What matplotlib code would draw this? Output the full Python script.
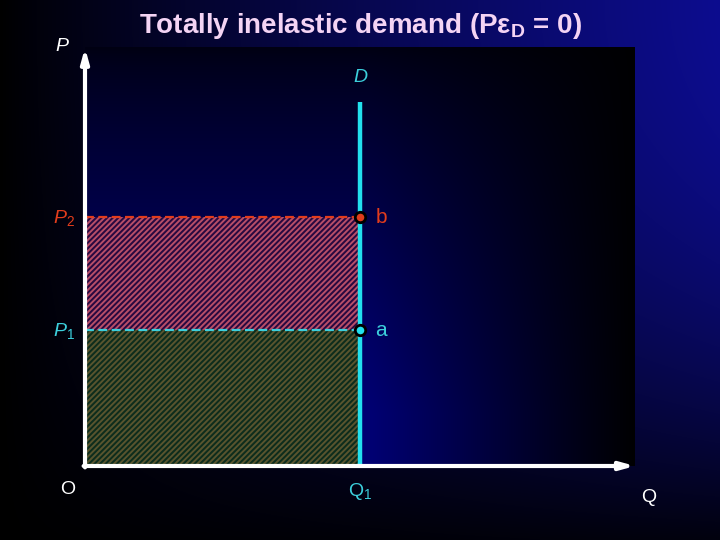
import matplotlib
matplotlib.use('Agg')
import matplotlib.pyplot as plt
import numpy as np

# ── Data (model units) ────────────────────────────────────────────────
q1 = 4.0                 # fixed quantity demanded
p1, p2 = 2.0, 3.66       # old and new price
d_top = 5.35             # top of the demand line
q_max, p_max = 8.0, 6.15 # axis extents
point_labels = ['a', 'b']
price_labels = [r'$\mathit{P}_{\mathrm{1}}$', r'$\mathit{P}_{\mathrm{2}}$']

# ── Style ─────────────────────────────────────────────────────────────
plt.rcParams['font.family'] = ['Liberation Sans', 'DejaVu Sans']
plt.rcParams['mathtext.fontset'] = 'custom'
plt.rcParams['mathtext.rm'] = 'Liberation Sans'
plt.rcParams['mathtext.it'] = 'Liberation Sans:italic'
plt.rcParams['mathtext.bf'] = 'Liberation Sans:bold'
plt.rcParams['hatch.linewidth'] = 1.4

RED = '#e23c1c'
CYAN = '#3ccfdc'
LINE_CYAN = '#22e0ee'

W, H = 720, 540
ux, uy = 68.75, 68.0      # pixels per unit
x0, y0 = 85, 466          # origin in pixels
xlim = (-x0 / ux, (W - x0) / ux)
ylim = (-(H - y0) / uy, y0 / uy)

fig = plt.figure(figsize=(7.2, 5.4), dpi=100)
ax = fig.add_axes([0, 0, 1, 1])
ax.axis('off')

# ── Backgrounds ───────────────────────────────────────────────────────
gx = np.linspace(0, 1, 360)
gy = np.linspace(0, 1, 270)          # row 0 = top
GX, GY = np.meshgrid(gx, gy)
I = np.clip(GX ** 0.85 * (1 - 0.9 * GY ** 2), 0, 1)
bg = np.dstack([0.05 * I, 0.05 * I, 0.56 * I])
ax.imshow(bg, extent=(*xlim, *ylim), aspect='auto', zorder=0,
          interpolation='bilinear')

px = np.linspace(0, 1, 300)
py = np.linspace(0, 1, 240)          # row 0 = top
PX, PY = np.meshgrid(px, py)
fy = np.clip(0.14 + 0.95 * PY ** 0.75, 0, 1)
fx = np.clip((1 - PX) / 0.48, 0, 1) ** 1.1
J = fy * fx
panel = np.dstack([0 * J, 0 * J, 0.44 * J + 0.01])
ax.imshow(panel, extent=(0, q_max, 0, p_max), aspect='auto', zorder=1,
          interpolation='bilinear')
ax.set_xlim(*xlim)
ax.set_ylim(*ylim)

# ── Revenue rectangles ────────────────────────────────────────────────
ax.fill_between([0, q1], 0, p1, facecolor='#0c2c1c', edgecolor='#58542e',
                hatch='//////', linewidth=0, zorder=2)
ax.fill_between([0, q1], p1, p2, facecolor='#280840', edgecolor='#b84e68',
                hatch='//////', linewidth=0, zorder=2)

# dashed price lines
ax.plot([0, q1], [p2, p2], color=RED, lw=1.6, ls=(0, (4, 2)), zorder=3)
ax.plot([0, q1], [p1, p1], color=CYAN, lw=1.6, ls=(0, (4, 2)), zorder=3)

# demand curve
ax.plot([q1, q1], [0, d_top], color=LINE_CYAN, lw=3.2, zorder=4,
        solid_capstyle='butt')

# axes with arrows
arrow = dict(arrowstyle='-|>,head_length=0.9,head_width=0.25', color='white',
             lw=3, mutation_scale=9, shrinkA=0, shrinkB=0)
ax.annotate('', xy=(0, p_max), xytext=(0, -0.02), arrowprops=arrow, zorder=5)
ax.annotate('', xy=(q_max, 0), xytext=(-0.02, 0), arrowprops=arrow, zorder=5)

# points
ax.plot([q1], [p2], 'o', ms=7.5, mfc=RED, mec='black', mew=2, zorder=6)
ax.plot([q1], [p1], 'o', ms=7.5, mfc=LINE_CYAN, mec='black', mew=2, zorder=6)

# ── Labels ────────────────────────────────────────────────────────────
fs = 14
ax.text(-0.33, p_max + 0.02, 'P', color='white', fontsize=fs, style='italic',
        ha='center', va='center', zorder=7)
ax.text(q1, 5.71, 'D', color=CYAN, fontsize=fs, style='italic',
        ha='center', va='center', zorder=7)
ax.text(-0.3, p2 - 0.02, price_labels[1], color=RED, fontsize=fs,
        ha='center', va='center', zorder=7)
ax.text(-0.3, p1 - 0.02, price_labels[0], color=CYAN, fontsize=fs,
        ha='center', va='center', zorder=7)
ax.text(q1 + 0.31, p2, point_labels[1], color=RED, fontsize=fs + 1,
        ha='center', va='center', zorder=7)
ax.text(q1 + 0.31, p1, point_labels[0], color=CYAN, fontsize=fs + 1,
        ha='center', va='center', zorder=7)
ax.text(-0.25, -0.35, 'O', color='white', fontsize=fs,
        ha='center', va='center', zorder=7)
ax.text(q1, -0.37, r'Q$_{\mathrm{1}}$', color=CYAN, fontsize=fs,
        ha='center', va='center', zorder=7)
ax.text(8.2, -0.46, 'Q', color='white', fontsize=fs,
        ha='center', va='center', zorder=7)

fig.text(0.5, 1 - 26 / H, r'Totally inelastic demand (Pε$_{\mathbf{D}}$ = 0)',
         color='#f4d4f4', fontsize=20, fontweight='bold',
         ha='center', va='center')

fig.savefig('out.png', dpi=100, facecolor='black')
